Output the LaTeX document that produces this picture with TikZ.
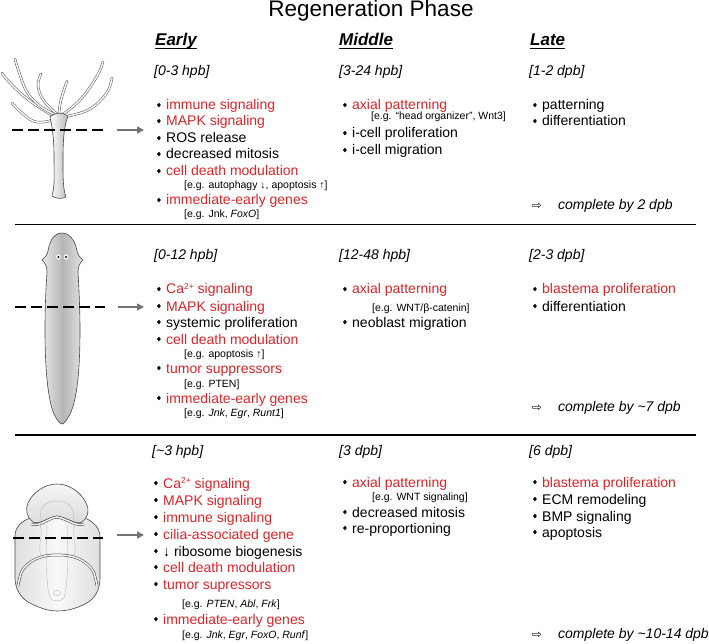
\documentclass[tikz,border=0pt]{standalone}
\usepackage{fontspec}
\setmainfont{Liberation Sans}
\newfontfamily\symf{DejaVu Sans}
\usetikzlibrary{arrows.meta}
\definecolor{rd}{RGB}{218,37,42}
\definecolor{arw}{RGB}{115,115,115}
\newcommand\rtx[1]{\textcolor{rd}{#1}}
\newcommand\bul{\makebox[10pt][l]{\hspace{0.8pt}\raisebox{2.7pt}{\scalebox{0.85}[1]{\rotatebox{45}{\rule{3.2pt}{3.2pt}}}}}}
\newcommand\sups[1]{\raisebox{4.6pt}{\fontsize{8.5}{8.5}\selectfont #1}}
\newcommand\cmpl{{\symf\fontsize{11.5}{11.5}\selectfont ⇨}}
\tikzset{
  itm/.style={anchor=base west, inner sep=0pt, font=\fontsize{14}{16}\selectfont},
  nt/.style={anchor=base west, inner sep=0pt, font=\fontsize{10.5}{12}\selectfont},
  tlab/.style={anchor=base west, inner sep=0pt, font=\fontsize{14}{16}\selectfont\itshape},
  hdr/.style={anchor=base west, inner sep=0pt, font=\fontsize{17}{19}\selectfont\bfseries\itshape},
  rule/.style={line width=1.2pt},
  cut/.style={line width=2.6pt, dash pattern=on 11pt off 5pt},
  garrow/.style={draw=arw, line width=1.6pt, -{Triangle[length=7pt,width=7pt]}},
  tent/.style={draw=gray!65!black, double=gray!6, double distance=1.5pt, line width=0.5pt, line cap=round},
  outl/.style={draw=gray!55!black, line width=0.6pt},
  faint/.style={draw=gray!55, line width=0.4pt},
  band/.style={draw=gray!50!black, double=gray!12, double distance=1.6pt, line width=0.5pt},
}
\begin{document}
\begin{tikzpicture}[x=1pt,y=-1pt]
\useasboundingbox (0,0) rectangle (709,644);
\fill[white] (0,0) rectangle (709,644);

% title and headers
\node[anchor=base, inner sep=0pt, font=\fontsize{22.5}{24}\selectfont] (title) at (371,17) {Regeneration Phase};
\node[hdr] (hE) at (155,46) {Early};
\node[hdr] (hM) at (339,46) {Middle};
\node[hdr] (hL) at (530,46) {Late};
\foreach \h in {hE,hM,hL}{\draw[line width=1.1pt] ([yshift=-2.2pt]\h.base west) -- ([yshift=-2.2pt]\h.base east);}

% rules
\coordinate (r1a) at (15,224.5); \coordinate (r1b) at (696,224.5);
\coordinate (r2a) at (15,435); \coordinate (r2b) at (696,435);
\draw[rule] (r1a) -- (r1b);
\draw[rule] (r2a) -- (r2b);

% ===== Hydra =====
\draw[tent] plot[smooth, tension=0.7] coordinates {(55,117) (30,101) (12,85) (2,73)};
\draw[tent] plot[smooth, tension=0.7] coordinates {(56,115) (40,106) (27,92) (19,72) (15,59)};
\draw[tent] plot[smooth, tension=0.7] coordinates {(57,114) (44,101) (38,86) (41,74)};
\draw[tent] plot[smooth, tension=0.7] coordinates {(59,113) (61,100) (67,81)};
\draw[tent] plot[smooth, tension=0.7] coordinates {(62,115) (80,100) (96,78) (103,62)};
\draw[tent] plot[smooth, tension=0.7] coordinates {(63,117) (88,110) (106,94) (112,78)};
\draw[tent] plot[smooth, tension=0.7] coordinates {(53,120) (33,121) (12,103)};
\shade[outl, left color=white, right color=gray!55]
  (50,117) .. controls (53,130) and (54,142) .. (54,157)
  .. controls (54,175) and (55,186) .. (52,196)
  .. controls (56,199) and (62,199) .. (66,197)
  .. controls (63,189) and (63,178) .. (63,160)
  .. controls (63,140) and (64,126) .. (68,116)
  .. controls (62,112) and (56,112) .. (50,117) -- cycle;

% ===== Planarian =====
\shade[outl, left color=gray!18, right color=gray!22, middle color=gray!58]
  (62,233) .. controls (72,233) and (76,245) .. (77,251)
  .. controls (78,255) and (80,258) .. (83,260)
  .. controls (80,263) and (78,266) .. (78,272)
  .. controls (79,290) and (80,310) .. (80,330)
  .. controls (80,370) and (77,400) .. (70,414)
  .. controls (67,420) and (64,424) .. (62,424)
  .. controls (60,424) and (57,420) .. (54,414)
  .. controls (48,400) and (45,370) .. (45,330)
  .. controls (45,305) and (46,288) .. (47,272)
  .. controls (47,266) and (45,263) .. (42,260)
  .. controls (45,258) and (47,255) .. (48,251)
  .. controls (49,245) and (52,233) .. (62,233) -- cycle;
\fill[gray!8] (58.5,257) ellipse (2.4 and 2.8);
\fill[gray!8] (66,257) ellipse (2.4 and 2.8);
\fill[black] (58.5,257) circle (1.2);
\fill[black] (66,257) circle (1.2);

% ===== Xenopus =====
\shade[outl, left color=gray!25, right color=gray!25, middle color=gray!5]
  (30,518) .. controls (22,521) and (15,527) .. (15,536) -- (15,578)
  .. controls (15,590) and (22,600) .. (32,604)
  .. controls (42,609) and (50,611) .. (57,611)
  .. controls (66,611) and (75,609) .. (85,604)
  .. controls (95,599) and (100,590) .. (100,578) -- (100,537)
  .. controls (100,528) and (94,522) .. (85,518) -- cycle;
\draw[faint] (47,525) .. controls (46,560) and (46,585) .. (50,598)
  .. controls (54,602) and (60,602) .. (64,598)
  .. controls (68,585) and (68,560) .. (67,525);
\draw[faint] (40,525) .. controls (44,535) and (37,545) .. (41,556);
\draw[faint] (75,525) .. controls (71,535) and (78,545) .. (74,556);
\draw[faint] (57,593) ellipse (3.5 and 2.6);
\draw[band] plot[smooth, tension=0.6] coordinates {(18,586) (22,571) (32,561) (45,556) (57,555) (70,556) (83,561) (93,571) (97,586)};
\shade[outl, top color=gray!8, bottom color=gray!28]
  (57,484) .. controls (45,484) and (33,492) .. (28,503)
  .. controls (25,510) and (27,518) .. (33,522)
  .. controls (40,525) and (46,518) .. (57,516)
  .. controls (68,518) and (76,525) .. (82,522)
  .. controls (88,518) and (90,510) .. (86,503)
  .. controls (81,492) and (69,484) .. (57,484) -- cycle;
\draw[faint] (40,520) .. controls (40,506) and (46,501) .. (57,501)
  .. controls (68,501) and (74,506) .. (74,520);
\draw[band] (31,524) .. controls (40,527) and (46,519) .. (57,517) .. controls (68,519) and (76,527) .. (84,524);

% cut lines and arrows
\draw[cut] (12,130) -- (103,130);
\draw[cut] (15,307) -- (105,307);
\draw[cut] (13,538) -- (103,538);
\coordinate (a1s) at (117,130); \coordinate (a1e) at (144,130);
\coordinate (a2s) at (118,307); \coordinate (a2e) at (144,307);
\coordinate (a3s) at (117,535); \coordinate (a3e) at (144,535);
\draw[garrow] (a1s) -- (a1e);
\draw[garrow] (a2s) -- (a2e);
\draw[garrow] (a3s) -- (a3e);

% ===== Section 1 =====
\node[tlab] (t1e) at (154,76) {[0-3 hpb]};
\node[tlab] (t1m) at (339,76) {[3-24 hpb]};
\node[tlab] (t1l) at (529,76) {[1-2 dpb]};
\node[itm] (e1a) at (156,110) {\bul\rtx{immune signaling}};
\node[itm] (e1b) at (156,126) {\bul\rtx{MAPK signaling}};
\node[itm] (e1c) at (156,143) {\bul ROS release};
\node[itm] (e1d) at (156,159) {\bul decreased mitosis};
\node[itm] (e1e) at (156,176) {\bul\rtx{cell death modulation}};
\node[nt]  (e1f) at (184,189) {[e.g. autophagy ↓, apoptosis ↑]};
\node[itm] (e1g) at (156,205) {\bul\rtx{immediate-early genes}};
\node[nt]  (e1h) at (184,218) {[e.g. Jnk, \textit{FoxO}]};
\node[itm] (m1a) at (342,110) {\bul\rtx{axial patterning}};
\node[nt]  (m1b) at (371,120) {[e.g. “head organizer”, Wnt3]};
\node[itm] (m1c) at (342,138) {\bul i-cell proliferation};
\node[itm] (m1d) at (342,155) {\bul i-cell migration};
\node[itm] (l1a) at (532,110) {\bul patterning};
\node[itm] (l1b) at (532,126) {\bul differentiation};
\node[anchor=base west, inner sep=0pt] (l1c) at (532,210) {\cmpl};
\node[tlab] (l1d) at (558,210) {complete by 2 dpb};

% ===== Section 2 =====
\node[tlab] (t2e) at (154,259) {[0-12 hpb]};
\node[tlab] (t2m) at (339,259) {[12-48 hpb]};
\node[tlab] (t2l) at (529,259) {[2-3 dpb]};
\node[itm] (e2a) at (156,294) {\bul\rtx{Ca\sups{2+} signaling}};
\node[itm] (e2b) at (156,311) {\bul\rtx{MAPK signaling}};
\node[itm] (e2c) at (156,327) {\bul systemic proliferation};
\node[itm] (e2d) at (156,344) {\bul\rtx{cell death modulation}};
\node[nt]  (e2e) at (184,357) {[e.g. apoptosis ↑]};
\node[itm] (e2f) at (156,373) {\bul\rtx{tumor suppressors}};
\node[nt]  (e2g) at (184,387) {[e.g. PTEN]};
\node[itm] (e2h) at (156,403) {\bul\rtx{immediate-early genes}};
\node[nt]  (e2i) at (184,416) {[e.g. \textit{Jnk}, \textit{Egr}, \textit{Runt1}]};
\node[itm] (m2a) at (342,294) {\bul\rtx{axial patterning}};
\node[nt]  (m2b) at (372,311) {[e.g. WNT/β-catenin]};
\node[itm] (m2c) at (342,327) {\bul neoblast migration};
\node[itm] (l2a) at (532,294) {\bul\rtx{blastema proliferation}};
\node[itm] (l2b) at (532,311) {\bul differentiation};
\node[anchor=base west, inner sep=0pt] (l2c) at (532,411) {\cmpl};
\node[tlab] (l2d) at (558,411) {complete by \textasciitilde 7 dpb};

% ===== Section 3 =====
\node[tlab] (t3e) at (152,455) {[\textasciitilde 3 hpb]};
\node[tlab] (t3m) at (339,455) {[3 dpb]};
\node[tlab] (t3l) at (529,455) {[6 dpb]};
\node[itm] (e3a) at (153,488) {\bul\rtx{Ca\sups{2+} signaling}};
\node[itm] (e3b) at (153,505) {\bul\rtx{MAPK signaling}};
\node[itm] (e3c) at (153,522) {\bul\rtx{immune signaling}};
\node[itm] (e3d) at (153,539) {\bul\rtx{cilia-associated gene}};
\node[itm] (e3e) at (153,556) {\bul ↓ ribosome biogenesis};
\node[itm] (e3f) at (153,572) {\bul\rtx{cell death modulation}};
\node[itm] (e3g) at (153,589) {\bul\rtx{tumor supressors}};
\node[nt]  (e3h) at (182,607) {[e.g. \textit{PTEN}, \textit{Abl}, \textit{Frk}]};
\node[itm] (e3i) at (153,624) {\bul\rtx{immediate-early genes}};
\node[nt]  (e3j) at (182,638) {[e.g. \textit{Jnk}, \textit{Egr}, \textit{FoxO}, \textit{Runf}]};
\node[itm] (m3a) at (342,487) {\bul\rtx{axial patterning}};
\node[nt]  (m3b) at (372,500) {[e.g. WNT signaling]};
\node[itm] (m3c) at (342,517) {\bul decreased mitosis};
\node[itm] (m3d) at (342,533) {\bul re-proportioning};
\node[itm] (l3a) at (532,487) {\bul\rtx{blastema proliferation}};
\node[itm] (l3b) at (532,504) {\bul ECM remodeling};
\node[itm] (l3c) at (532,521) {\bul BMP signaling};
\node[itm] (l3d) at (532,537) {\bul apoptosis};
\node[anchor=base west, inner sep=0pt] (l3e) at (532,638) {\cmpl};
\node[tlab] (l3f) at (558,638) {complete by \textasciitilde 10-14 dpb};
\end{tikzpicture}
\end{document}
